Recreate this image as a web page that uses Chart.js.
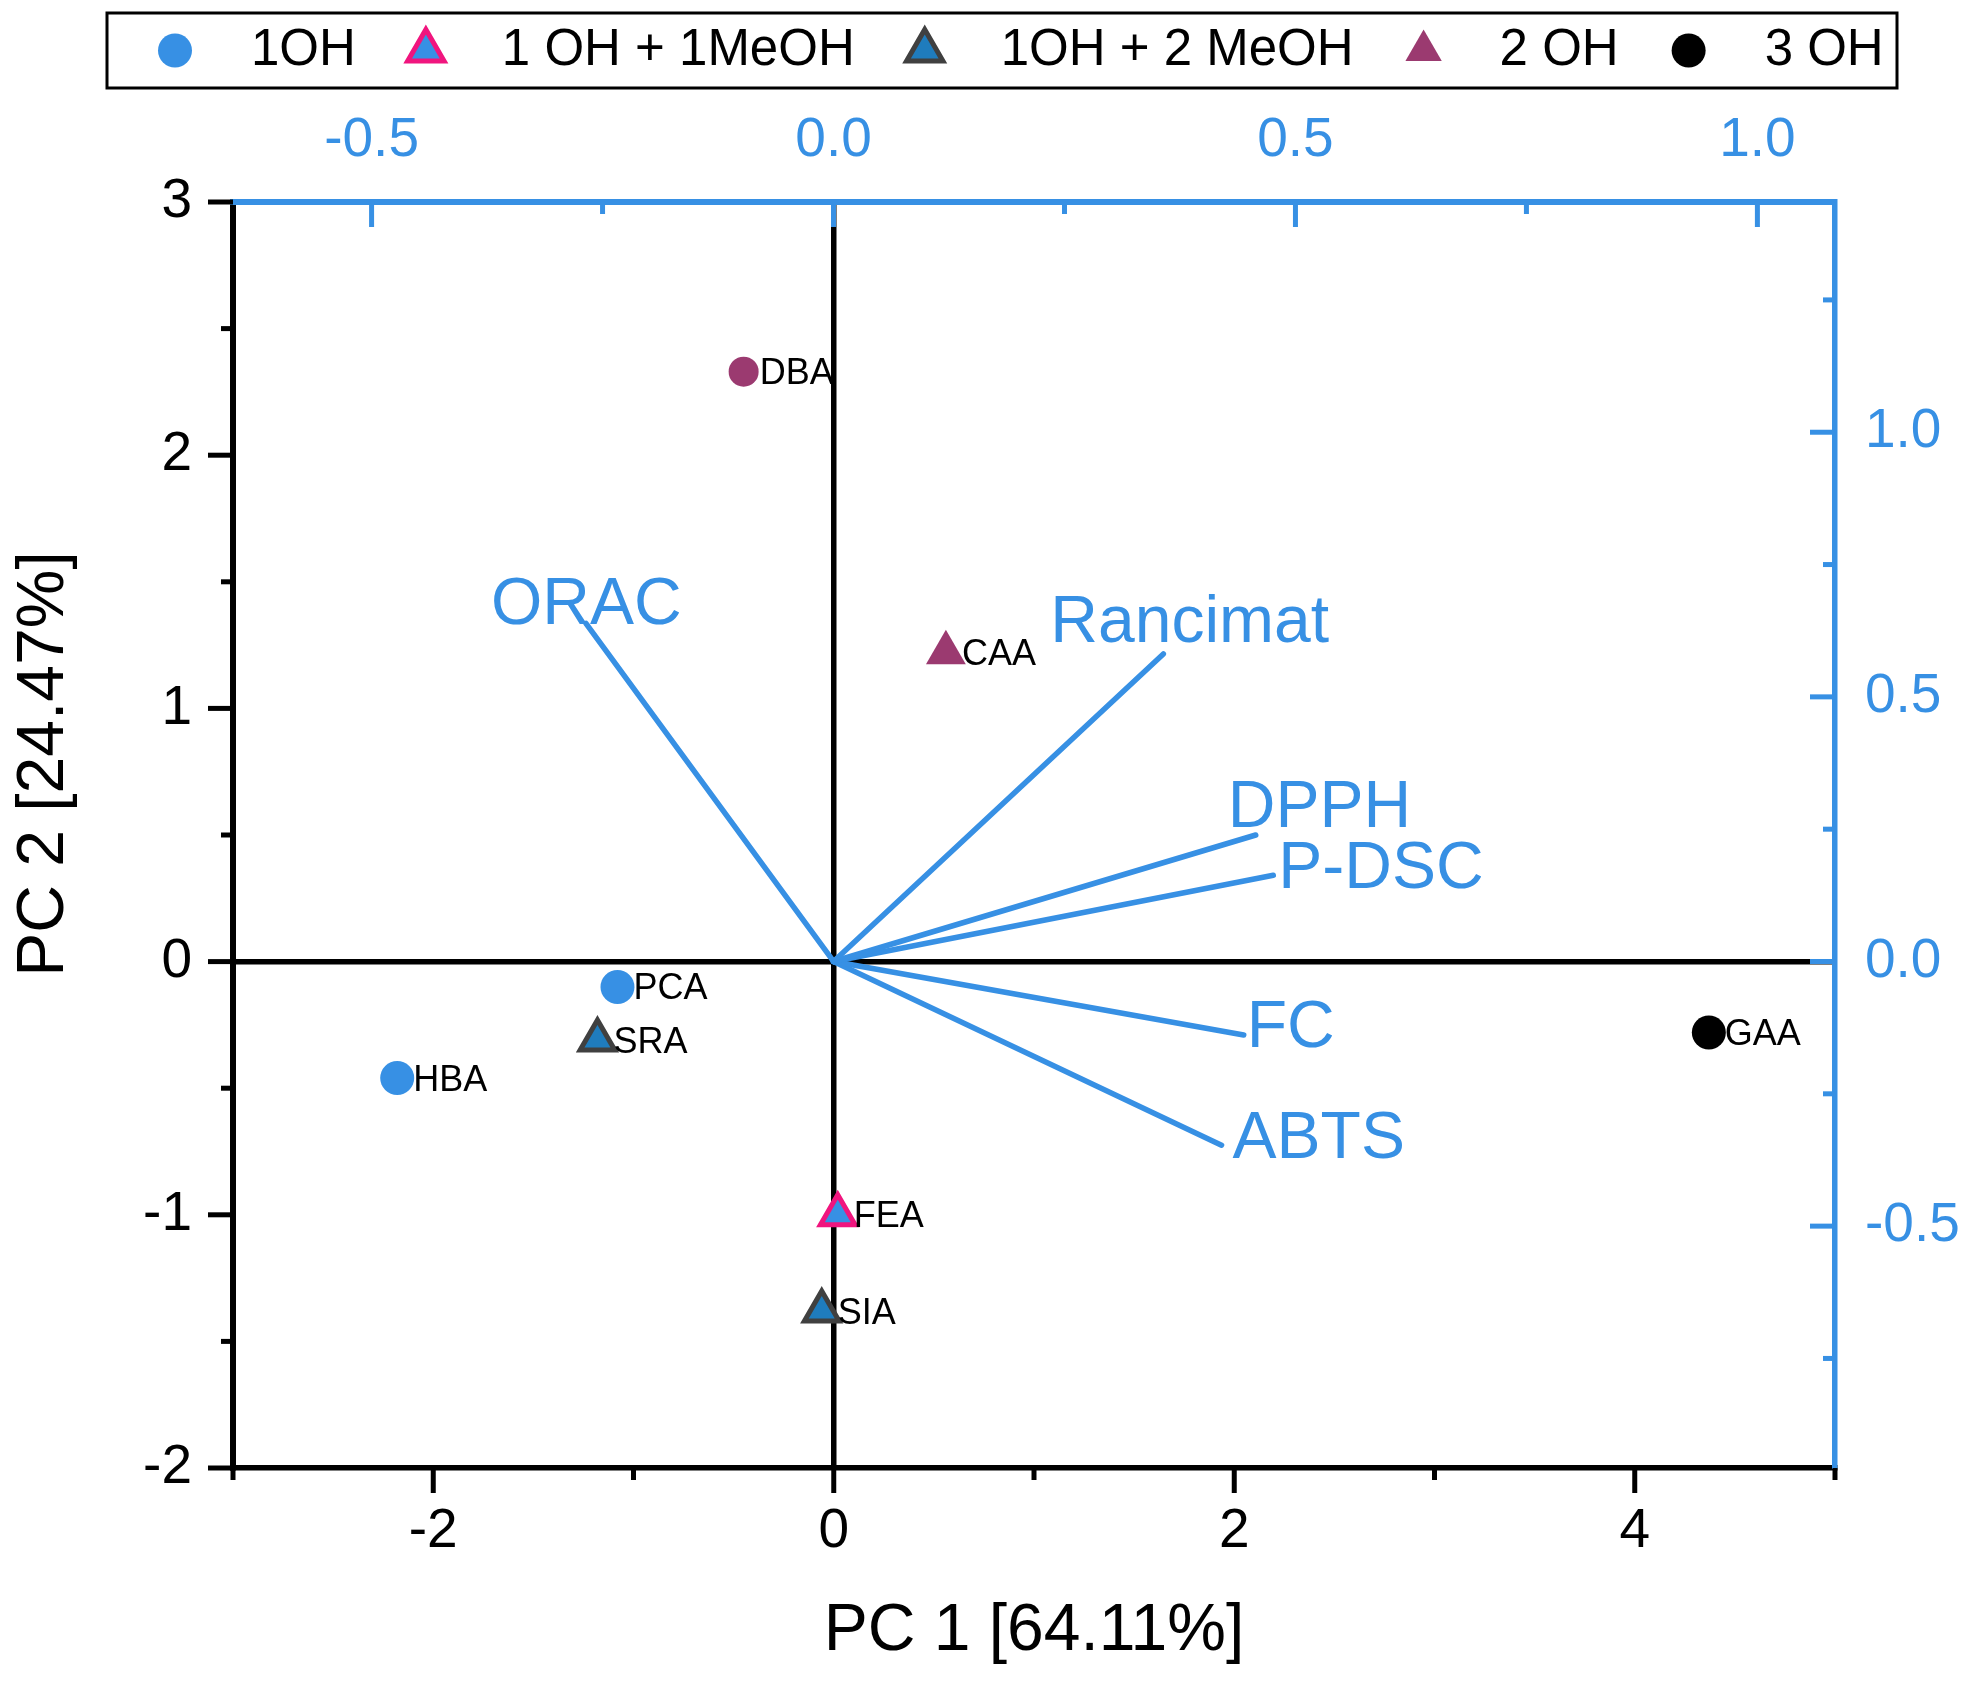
<!DOCTYPE html>
<html>
<head>
<meta charset="utf-8">
<title>PCA biplot</title>
<script src="https://cdn.jsdelivr.net/npm/chart.js@4.4.1/dist/chart.umd.min.js"></script>
<style>
  html, body { margin: 0; padding: 0; background: #fff; }
  canvas { display: block; }
</style>
</head>
<body>
<canvas id="biplot" width="1971" height="1681"></canvas>
<script>
Chart.defaults.font.family = '"Liberation Sans", Arial, Helvetica, sans-serif';
Chart.defaults.color = '#000';

// scores on PC1 / PC2 (bottom + left axes)
const compounds = ['HBA', 'PCA', 'FEA', 'SRA', 'SIA', 'CAA', 'DBA', 'GAA'];
const pc1Scores = [-2.18, -1.08, 0.02, -1.18, -0.06, 0.56, -0.45, 4.37];
const pc2Scores = [-0.46, -0.10, -1.00, -0.31, -1.38, 1.22, 2.33, -0.28];
const compoundGroup = ['1OH', '1OH', '1 OH + 1MeOH', '1OH + 2 MeOH', '1OH + 2 MeOH', '2 OH', '2 OH', '3 OH'];
const groups = ['1OH', '1 OH + 1MeOH', '1OH + 2 MeOH', '2 OH', '3 OH'];

// loadings (top + right axes)
const variables = ['ORAC', 'Rancimat', 'DPPH', 'P-DSC', 'FC', 'ABTS'];
const loading1 = [-0.268, 0.357, 0.457, 0.476, 0.444, 0.420];
const loading2 = [0.639, 0.581, 0.239, 0.163, -0.139, -0.347];

const BLUE = '#3790e4';
const FONT = '"Liberation Sans", Arial, Helvetica, sans-serif';
const MAJOR_TICK = 25;
const MINOR_TICK = 12;

const groupStyle = {
    '1OH':          { pointStyle: 'circle',   radius: 17, bg: BLUE,      border: BLUE,      bw: 0 },
    '1 OH + 1MeOH': { pointStyle: 'triangle', radius: 20, bg: BLUE,      border: '#f0157e', bw: 5 },
    '1OH + 2 MeOH': { pointStyle: 'triangle', radius: 20, bg: '#1f7cbd', border: '#404040', bw: 5 },
    '2 OH':         { pointStyle: 'triangle', radius: 23, bg: '#9b3a70', border: '#9b3a70', bw: 0 },
    '3 OH':         { pointStyle: 'circle',   radius: 17, bg: '#000000', border: '#000000', bw: 0 }
};
// DBA is drawn as a circle although it belongs to the "2 OH" group
const shapeOverride = { DBA: { pointStyle: 'circle', radius: 15 } };

// where each loading label sits relative to the arrow tip (px)
const loadingLabelOffset = {
    'ORAC': [-95, 1], 'Rancimat': [-113, -12], 'DPPH': [-28, -8],
    'P-DSC': [5, 13], 'FC': [3, 12], 'ABTS': [11, 13]
};

const scoreSets = groups.map(g => {
    const idx = compounds.map((c, i) => i).filter(i => compoundGroup[i] === g);
    const st = groupStyle[g];
    return {
        label: g,
        xAxisID: 'x',
        yAxisID: 'y',
        names: idx.map(i => compounds[i]),
        data: idx.map(i => ({ x: pc1Scores[i], y: pc2Scores[i] })),
        pointStyle: idx.map(i => (shapeOverride[compounds[i]] || st).pointStyle),
        pointRadius: idx.map(i => (shapeOverride[compounds[i]] || st).radius),
        pointBackgroundColor: st.bg,
        pointBorderColor: st.border,
        pointBorderWidth: st.bw,
        showLine: false
    };
});

const loadingSets = variables.map((v, i) => ({
    label: v,
    isLoading: true,
    xAxisID: 'x2',
    yAxisID: 'y2',
    data: [{ x: 0, y: 0 }, { x: loading1[i], y: loading2[i] }],
    showLine: true,
    borderColor: BLUE,
    borderWidth: 5.5,
    borderCapStyle: 'round',
    pointRadius: 0
}));

const isHalf = v => Math.abs(v * 2 - Math.round(v * 2)) < 1e-9;

// Origin-style ticks: long labelled ones, short minor ones, inward on top/right
const tickMarks = {
    id: 'tickMarks',
    afterDraw(chart) {
        const ctx = chart.ctx;
        const area = chart.chartArea;
        const sides = { x: ['#000', 'bottom'], y: ['#000', 'left'], x2: [BLUE, 'top'], y2: [BLUE, 'right'] };
        ctx.save();
        ctx.lineWidth = 5;
        Object.keys(sides).forEach(id => {
            const scale = chart.scales[id];
            const [color, side] = sides[id];
            ctx.strokeStyle = color;
            scale.ticks.forEach(t => {
                const len = t.label !== '' ? MAJOR_TICK : MINOR_TICK;
                const p = scale.getPixelForValue(t.value);
                ctx.beginPath();
                if (side === 'bottom') { ctx.moveTo(p, area.bottom); ctx.lineTo(p, area.bottom + len); }
                else if (side === 'top') { ctx.moveTo(p, area.top); ctx.lineTo(p, area.top + len); }
                else if (side === 'left') { ctx.moveTo(area.left, p); ctx.lineTo(area.left - len, p); }
                else { ctx.moveTo(area.right, p); ctx.lineTo(area.right - len, p); }
                ctx.stroke();
            });
        });
        ctx.restore();
    }
};

// compound names next to the points, variable names at the arrow tips
const markLabels = {
    id: 'markLabels',
    afterDatasetsDraw(chart) {
        const ctx = chart.ctx;
        ctx.save();
        ctx.textAlign = 'left';
        ctx.textBaseline = 'alphabetic';
        chart.data.datasets.forEach((ds, di) => {
            const meta = chart.getDatasetMeta(di);
            if (ds.names) {
                ctx.font = '36px ' + FONT;
                ctx.fillStyle = '#000';
                meta.data.forEach((pt, i) => ctx.fillText(ds.names[i], pt.x + 16, pt.y + 12.5));
            } else if (ds.isLoading) {
                const tip = meta.data[1];
                const off = loadingLabelOffset[ds.label];
                ctx.font = '66px ' + FONT;
                ctx.fillStyle = BLUE;
                ctx.fillText(ds.label, tip.x + off[0], tip.y + off[1]);
            }
        });
        ctx.restore();
    }
};

// framed one-row legend at the top + the left axis title
const frameLegend = {
    id: 'frameLegend',
    afterDraw(chart) {
        const ctx = chart.ctx;
        const cy = 50.5;
        ctx.save();
        ctx.lineWidth = 3;
        ctx.strokeStyle = '#000';
        ctx.strokeRect(107, 13, 1790, 75);
        ctx.font = '51px ' + FONT;
        ctx.textAlign = 'left';
        ctx.textBaseline = 'middle';
        let x = 175;
        chart.data.datasets.filter(d => d.names).forEach(ds => {
            const st = groupStyle[ds.label];
            ctx.fillStyle = st.bg;
            ctx.strokeStyle = st.border;
            ctx.lineWidth = st.bw;
            Chart.helpers.drawPoint(ctx, { pointStyle: st.pointStyle, radius: st.pointStyle === 'circle' ? 17 : 21, borderWidth: st.bw, rotation: 0 }, x, cy);
            ctx.fillStyle = '#000';
            ctx.fillText(ds.label, x + 76, cy);
            x += 76 + ctx.measureText(ds.label).width + 70;
        });

        ctx.translate(45, 764);
        ctx.rotate(-Math.PI / 2);
        ctx.font = '66px ' + FONT;
        ctx.textAlign = 'center';
        ctx.fillStyle = '#000';
        ctx.fillText('PC 2 [24.47%]', 0, 0);
        ctx.restore();
    }
};

const zeroLine = c => (c.tick && c.tick.value === 0 ? '#000' : 'rgba(0,0,0,0)');

new Chart(document.getElementById('biplot'), {
    type: 'scatter',
    data: { datasets: scoreSets.concat(loadingSets) },
    options: {
        responsive: false,
        animation: false,
        devicePixelRatio: 1,
        events: [],
        layout: { padding: 0 },
        plugins: {
            legend: { display: false },
            tooltip: { enabled: false }
        },
        scales: {
            x: {
                type: 'linear', position: 'bottom', min: -3, max: 5,
                ticks: {
                    stepSize: 1, autoSkip: false, maxRotation: 0, maxTicksLimit: 20,
                    padding: 31, font: { size: 55 }, color: '#000',
                    callback: v => (v % 2 === 0 ? String(v) : '')
                },
                grid: { drawTicks: false, lineWidth: 5.5, color: zeroLine },
                border: { color: '#000', width: 5.5 },
                title: { display: true, text: 'PC 1 [64.11%]', font: { size: 66 }, color: '#000', padding: { top: 0, bottom: 10 } },
                afterFit: s => { s.height = 213; }
            },
            y: {
                type: 'linear', position: 'left', min: -2, max: 3,
                ticks: {
                    stepSize: 0.5, autoSkip: false, maxTicksLimit: 20,
                    padding: 41, font: { size: 55 }, color: '#000',
                    callback: v => (Number.isInteger(v) ? String(v) : '')
                },
                grid: { drawTicks: false, lineWidth: 5.5, color: zeroLine },
                border: { color: '#000', width: 6 },
                afterFit: s => { s.width = 233; }
            },
            x2: {
                type: 'linear', position: 'top', axis: 'x', min: -0.650, max: 1.084,
                ticks: {
                    stepSize: 0.25, includeBounds: false, autoSkip: false, maxRotation: 0, maxTicksLimit: 20,
                    padding: 28, font: { size: 55 }, color: BLUE,
                    callback: v => (isHalf(v) ? v.toFixed(1) : '')
                },
                grid: { display: false, drawTicks: false },
                border: { color: BLUE, width: 6 },
                afterFit: s => { s.height = 202; }
            },
            y2: {
                type: 'linear', position: 'right', axis: 'y', min: -0.957, max: 1.435,
                ticks: {
                    stepSize: 0.25, includeBounds: false, autoSkip: false, maxTicksLimit: 20,
                    padding: 30, font: { size: 55 }, color: BLUE,
                    callback: v => (isHalf(v) ? v.toFixed(1) : '')
                },
                grid: { display: false, drawTicks: false },
                border: { color: BLUE, width: 5.5 },
                afterFit: s => { s.width = 136; }
            }
        }
    },
    plugins: [tickMarks, markLabels, frameLegend]
});
</script>
</body>
</html>
